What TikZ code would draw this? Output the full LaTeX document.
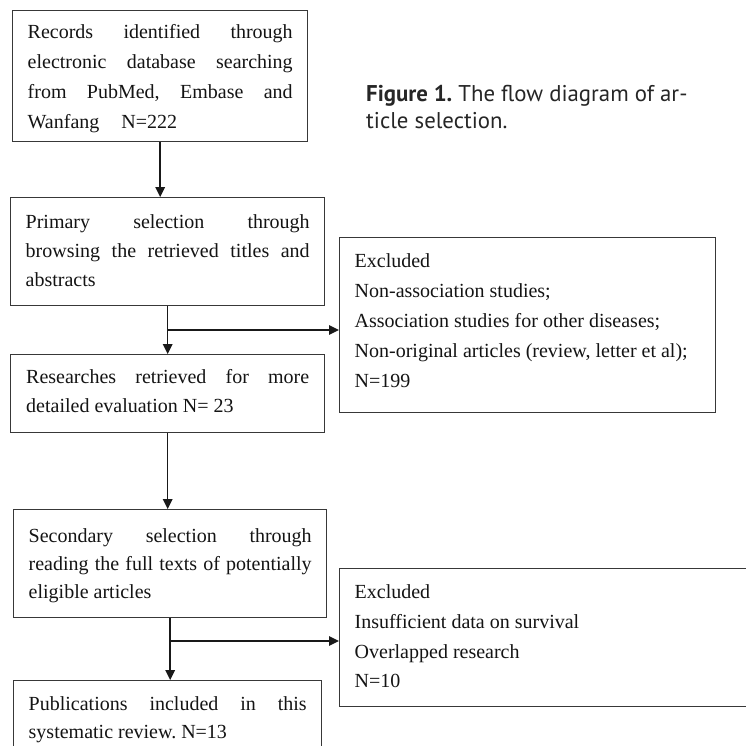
\documentclass[tikz,border=0pt]{standalone}
\usepackage{fontspec}
\setmainfont{Liberation Serif}
\newfontfamily\capfont{PT Sans}
\usetikzlibrary{arrows.meta}
\frenchspacing
\newlength\bxw
\newlength\bxs
\newcommand\Lj[1]{\setbox0=\hbox to\bxw{\spaceskip=0pt plus 1fil\xspaceskip=0pt plus 1fil\relax #1}\ht0=0pt\dp0=0pt\box0\kern\bxs}
\newcommand\Ll[1]{\setbox0=\hbox to\bxw{#1\hfil}\ht0=0pt\dp0=0pt\box0\kern\bxs}
\newcommand\bxc[5]{\bxw=#1pt\relax\bxs=#4pt\relax\vbox to #2pt{\offinterlineskip\kern#3pt\relax #5\vss}}
\begin{document}
\begin{tikzpicture}[x=1pt,y=-1pt,
  box/.style={draw=black!78, line width=1.4pt, anchor=north west, inner ysep=0pt, inner xsep=15pt,
    font=\fontsize{20pt}{30pt}\selectfont\frenchspacing, text=black!92},
  arr/.style={draw=black!90, line width=1.5pt, -{Triangle[length=10pt,width=9.5pt]}},
  captext/.style={anchor=north west, inner sep=0pt, font=\capfont\fontsize{22.8pt}{26pt}\selectfont, text=black!85}]
\useasboundingbox (0,0) rectangle (746,746);
\clip (0,0) rectangle (746,746);
\fill[white] (0,0) rectangle (746,746);

\node[box] (b1) at (12,10) {\bxc{265}{131}{28}{30}{%
  \Lj{Records identified through}
  \Lj{electronic database searching}
  \Lj{from PubMed, Embase and}
  \Ll{Wanfang\hspace{22pt}N=222}}};

\node[box] (b2) at (10,197) {\bxc{284}{108}{31}{29}{%
  \Lj{Primary selection through}
  \Lj{browsing the retrieved titles and}
  \Ll{abstracts}}};

\node[box, inner xsep=15.5pt] (b3) at (10,354) {\bxc{283}{78}{29}{29}{%
  \Lj{Researches retrieved for more}
  \Ll{detailed evaluation N= 23}}};

\node[box] (b4) at (13,509) {\bxc{283}{108}{32.5}{28}{%
  \Lj{Secondary selection through}
  \Lj{reading the full texts of potentially}
  \Ll{eligible articles}}};

\node[box] (b5) at (13,680) {\bxc{278}{110}{30}{28}{%
  \Lj{Publications included in this}
  \Ll{systematic review. N=13}}};

\node[box] (e1) at (339,237) {\bxc{346}{175}{30}{30}{%
  \Ll{Excluded}
  \Ll{Non-association studies;}
  \Ll{Association studies for other diseases;}
  \Ll{Non-original articles (review, letter et al);}
  \Ll{N=199}}};

\node[box] (e2) at (339,568) {\bxc{391}{138}{30}{29.7}{%
  \Ll{Excluded}
  \Ll{Insufficient data on survival}
  \Ll{Overlapped research}
  \Ll{N=10}}};

\node[captext] (caption) at (366,81.7) {\bxc{360}{55}{20}{26.6}{%
  \Ll{\textbf{Figure 1.} The flow diagram of ar-}
  \Ll{ticle selection.}}};

\coordinate (j1) at (168,330);
\coordinate (j2) at (169,641);

\draw[arr] (b1.south) -- (b1.south |- b2.north);
\draw[arr] (b2.south) -- (b2.south |- b3.north);
\draw[arr] (j1) -- (j1 -| e1.west);
\draw[arr] (b3.south) -- (b3.south |- b4.north);
\draw[arr] (b4.south) -- (b4.south |- b5.north);
\draw[arr] (j2) -- (j2 -| e2.west);
\end{tikzpicture}
\end{document}
